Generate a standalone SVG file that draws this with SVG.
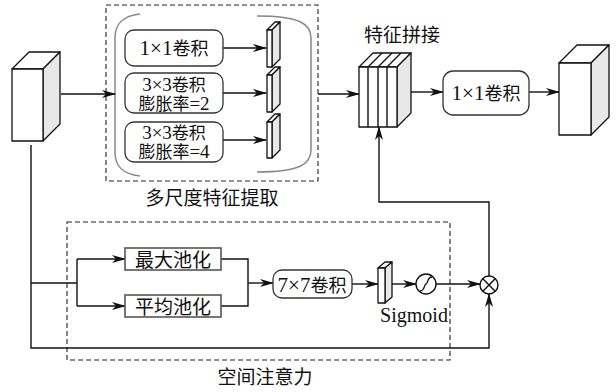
<svg xmlns="http://www.w3.org/2000/svg" width="616" height="392" viewBox="0 0 616 392">
<style>
text{font-family:"Liberation Serif","Noto Sans CJK SC",serif;font-size:19px;fill:#111;text-anchor:middle}
text.c{font-size:18px}
text.c2{font-size:17px}
.l{font-size:21px}
.l2{font-size:19px}
.box{fill:#fff;stroke:#333;stroke-width:1.3}
.pbox{fill:#fff;stroke:#555;stroke-width:1.6}
.face{fill:#fff;stroke:#111;stroke-width:1.3;stroke-linejoin:round}
.side{fill:#e8e8e8;stroke:#111;stroke-width:1.3;stroke-linejoin:round}
.dash{fill:none;stroke:#222;stroke-width:1.1;stroke-dasharray:5 3}
.br{fill:none;stroke:#888;stroke-width:1.5}
.ln{fill:none;stroke:#111;stroke-width:1.4}
.ar{fill:none;stroke:#111;stroke-width:1.4;marker-end:url(#ah)}
</style>
<defs>
<marker id="ah" viewBox="0 0 14 8" refX="13" refY="4" markerWidth="14" markerHeight="8" markerUnits="userSpaceOnUse" orient="auto">
<path d="M0,0 L14,4 L0,8 L4,4 Z" fill="#111"/>
</marker>
</defs>

<g id="groups">
<rect class="dash" x="106" y="5" width="212" height="176"/>
<rect class="dash" x="67" y="222" width="383" height="138"/>
<path class="br" d="M140,14 C122,16 115,24 115,38 V152 C115,166 122,174 140,176"/>
<path class="br" d="M257,16 C300,16 311,24 311,38 V150 C311,164 300,172 257,172"/>
<text x="212" y="205">多尺度特征提取</text>
<text x="265" y="384">空间注意力</text>
</g>

<g id="connectors">
<path class="ar" d="M61,94 H115"/>
<path class="ar" d="M223,48 H266"/>
<path class="ar" d="M223,93 H266"/>
<path class="ar" d="M223,140 H266"/>
<path class="ar" d="M318,94 H359"/>
<path class="ar" d="M411,92 H443"/>
<path class="ar" d="M529,92 H559"/>
<path class="ar" d="M31,145 V348 H489 V294"/>
<path class="ln" d="M31,283 H77 M77,259 V306"/>
<path class="ar" d="M77,259 H125"/>
<path class="ar" d="M77,306 H125"/>
<path class="ln" d="M221,259 H248 V306 H221"/>
<path class="ar" d="M248,283 H273"/>
<path class="ar" d="M352,284 H378"/>
<path class="ar" d="M392,284 H416"/>
<path class="ar" d="M436,284 H480"/>
<path class="ar" d="M489,276 V202 H379 V127"/>
</g>

<g id="input">
<path class="face" d="M12,69 L29,52 H60 L43,69 Z"/>
<path class="side" d="M43,69 L60,52 V124 L43,141 Z"/>
<rect class="face" x="12" y="69" width="31" height="72"/>
</g>

<g id="conv1x1a">
<rect class="box" x="125" y="30" width="98" height="36" rx="9"/>
<text class="c" x="174" y="55"><tspan class="l">1×1</tspan>卷积</text>
</g>
<g id="conv3x3d2">
<rect class="box" x="125" y="73" width="98" height="40" rx="9"/>
<text class="c2" x="174" y="91"><tspan class="l2">3×3</tspan>卷积</text>
<text class="c2" x="174" y="110">膨胀率<tspan class="l2">=2</tspan></text>
</g>
<g id="conv3x3d4">
<rect class="box" x="125" y="122" width="98" height="40" rx="9"/>
<text class="c2" x="174" y="139"><tspan class="l2">3×3</tspan>卷积</text>
<text class="c2" x="174" y="158">膨胀率<tspan class="l2">=4</tspan></text>
</g>

<g id="slab1">
<path class="face" d="M267,30 L275,22 H280 L272,30 Z"/>
<path class="side" d="M272,30 L280,22 V59 L272,67 Z"/>
<rect class="face" x="267" y="30" width="5" height="37"/>
</g>
<g id="slab2">
<path class="face" d="M267,75 L275,67 H280 L272,75 Z"/>
<path class="side" d="M272,75 L280,67 V104 L272,112 Z"/>
<rect class="face" x="267" y="75" width="5" height="37"/>
</g>
<g id="slab3">
<path class="face" d="M267,122 L275,114 H280 L272,122 Z"/>
<path class="side" d="M272,122 L280,114 V150 L272,158 Z"/>
<rect class="face" x="267" y="122" width="5" height="36"/>
</g>

<g id="concat">
<text x="402" y="42">特征拼接</text>
<path class="face" d="M359,67 L373,53 H411 L397,67 Z"/>
<path class="ln" d="M368,67 L382,53 M378,67 L392,53 M387,67 L401,53"/>
<path class="side" d="M397,67 L411,53 V113 L397,127 Z"/>
<rect class="face" x="359" y="67" width="38" height="60"/>
<path class="ln" d="M368,67 V127 M378,67 V127 M387,67 V127"/>
</g>

<g id="conv1x1b">
<rect class="box" x="443" y="71" width="86" height="44" rx="10"/>
<text class="c" x="486" y="100"><tspan class="l">1×1</tspan>卷积</text>
</g>

<g id="output">
<path class="face" d="M559,63 L577,45 H609 L591,63 Z"/>
<path class="side" d="M591,63 L609,45 V117 L591,135 Z"/>
<rect class="face" x="559" y="63" width="32" height="72"/>
</g>

<g id="maxpool">
<rect class="pbox" x="125" y="248" width="96" height="22"/>
<text x="173" y="267">最大池化</text>
</g>
<g id="avgpool">
<rect class="pbox" x="125" y="295" width="96" height="22"/>
<text x="173" y="314">平均池化</text>
</g>

<g id="conv7x7">
<rect class="box" x="273" y="270" width="79" height="28" rx="9"/>
<text class="c" x="312" y="292"><tspan class="l">7×7</tspan>卷积</text>
</g>

<g id="slab4">
<path class="face" d="M378,268 L385,262 H392 L385,268 Z"/>
<path class="side" d="M385,268 L392,262 V297 L385,303 Z"/>
<rect class="face" x="378" y="268" width="7" height="35"/>
</g>

<g id="sigmoid">
<circle cx="426" cy="284" r="10" fill="#fff" stroke="#111" stroke-width="1.4"/>
<path class="ln" d="M420,291 C425,291 424,284 426,284 C428,284 427,277 432,277"/>
<text x="414" y="322" style="font-size:20px">Sigmoid</text>
</g>

<g id="multiply">
<circle cx="489" cy="285" r="9" fill="#fff" stroke="#111" stroke-width="1.4"/>
<path class="ln" d="M482.6,278.6 L495.4,291.4 M495.4,278.6 L482.6,291.4"/>
</g>
</svg>
